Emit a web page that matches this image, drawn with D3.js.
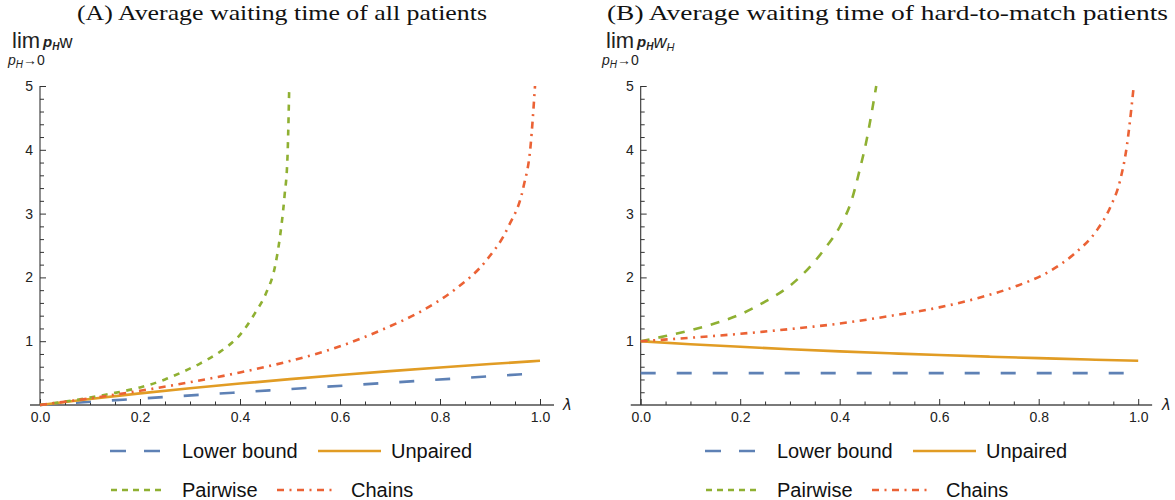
<!DOCTYPE html>
<html><head><meta charset="utf-8">
<script src="https://cdn.jsdelivr.net/npm/d3@7"></script>
<style>body{margin:0;background:#fff} svg{display:block}</style>
</head><body><svg id="c" width="1175" height="500"></svg>
<script>
// ---------- data ----------
const xTicks = [0, 0.2, 0.4, 0.6, 0.8, 1.0];
const xMinorTicks = [0.05,0.1,0.15,0.25,0.3,0.35,0.45,0.5,0.55,0.65,0.7,0.75,0.85,0.9,0.95];
const yTicks = [1, 2, 3, 4, 5];
const yMinorTicks = [0.2,0.4,0.6,0.8,1.2,1.4,1.6,1.8,2.2,2.4,2.6,2.8,3.2,3.4,3.6,3.8,4.2,4.4,4.6,4.8];
const seriesNames = ["Lower bound", "Unpaired", "Pairwise", "Chains"];
const titleA = "(A) Average waiting time of all patients";
const titleB = "(B) Average waiting time of hard-to-match patients";

// [lambda, value]
const lowerA = [[0,0],[0.25,0.125],[0.5,0.25],[0.75,0.375],[1,0.5]];
const unpairedA = [[0,0],[0.1,0.095],[0.2,0.182],[0.3,0.262],[0.4,0.336],[0.5,0.405],[0.6,0.47],[0.7,0.531],[0.8,0.588],[0.9,0.642],[1,0.693]];
const pairwiseA = [[0,0],[0.05,0.054],[0.1,0.117],[0.15,0.19],[0.2,0.275],[0.25,0.4],[0.28,0.5],[0.32,0.65],[0.363,0.85],[0.4,1.1],[0.43,1.44],[0.452,1.75],[0.47,2.17],[0.48,2.64],[0.489,3.27],[0.495,3.89],[0.4985,5.0]];
const chainsA = [[0,0],[0.1,0.105],[0.2,0.223],[0.3,0.357],[0.4,0.51],[0.5,0.69],[0.6,0.92],[0.69,1.2],[0.767,1.49],[0.833,1.83],[0.893,2.27],[0.937,2.8],[0.967,3.42],[0.981,4.05],[0.99,5.0]];

const lowerB = [[0,0.5],[0.25,0.5],[0.5,0.5],[0.75,0.5],[1,0.5]];
const unpairedB = [[0,1],[0.1,0.953],[0.2,0.912],[0.3,0.875],[0.4,0.841],[0.5,0.811],[0.6,0.783],[0.7,0.758],[0.8,0.735],[0.9,0.713],[1,0.693]];
const pairwiseB = [[0,1],[0.05,1.08],[0.1,1.17],[0.15,1.28],[0.2,1.42],[0.25,1.62],[0.3,1.87],[0.343,2.19],[0.373,2.48],[0.4,2.79],[0.424,3.21],[0.44,3.68],[0.454,4.15],[0.464,4.57],[0.4735,5.0]];
const chainsB = [[0,1],[0.1,1.054],[0.2,1.116],[0.3,1.19],[0.4,1.277],[0.5045,1.40],[0.6,1.53],[0.675,1.67],[0.75,1.85],[0.823,2.1],[0.87,2.36],[0.917,2.74],[0.945,3.12],[0.963,3.5],[0.977,4.05],[0.987,4.7],[0.991,5.0]];

// ---------- styles ----------
const colors = {"Lower bound":"#5E81B5", "Unpaired":"#E19C24", "Pairwise":"#8FB032", "Chains":"#EB6235"};
const svg = d3.select("#c");
svg.append("rect").attr("width",1175).attr("height",500).attr("fill","#fff");
const sans = "'Liberation Sans', Arial, sans-serif";

function panel(opt){
  const x = d3.scaleLinear().domain([0,1]).range(opt.xr);
  const y = d3.scaleLinear().domain([0,5]).range([405,86]);
  const g = svg.append("g");

  // title
  g.append("text").attr("x", opt.titleX).attr("y", 20)
    .attr("font-family","'Liberation Serif', 'Times New Roman', serif").attr("font-size",21)
    .attr("textLength", opt.titleW).attr("lengthAdjust","spacingAndGlyphs")
    .attr("fill","#111").text(opt.title);

  // x axis line
  g.append("line").attr("x1", x(-0.02)).attr("x2", x(1.028)).attr("y1", y(0)).attr("y2", y(0))
    .attr("stroke","#7a7a7a").attr("stroke-width",1.8);
  // y axis line
  g.append("line").attr("x1", x(0)).attr("x2", x(0)).attr("y1", y(0)).attr("y2", y(5))
    .attr("stroke","#333").attr("stroke-width",1.1);

  const xa = d3.axisBottom(x).tickValues(xTicks).tickSize(-6).tickPadding(7).tickFormat(d3.format(".1f"));
  const xg = g.append("g").attr("transform",`translate(0,${y(0)})`).call(xa);
  const xm = d3.axisBottom(x).tickValues(xMinorTicks).tickSize(-3.5).tickFormat("");
  const xmg = g.append("g").attr("transform",`translate(0,${y(0)})`).call(xm);
  const ya = d3.axisLeft(y).tickValues(yTicks).tickSize(-6).tickPadding(7).tickFormat(d3.format("d"));
  const yg = g.append("g").attr("transform",`translate(${x(0)},0)`).call(ya);
  const ym = d3.axisLeft(y).tickValues(yMinorTicks).tickSize(-4).tickFormat("");
  const ymg = g.append("g").attr("transform",`translate(${x(0)},0)`).call(ym);
  [xg,xmg,yg,ymg].forEach(a=>{
    a.select(".domain").remove();
    a.selectAll("line").attr("stroke","#333").attr("stroke-width",1);
    a.selectAll("text").attr("font-family",sans).attr("font-size",14).attr("fill","#222");
  });

  // lambda label
  g.append("text").attr("x", opt.lamX).attr("y", 410).attr("font-family","'DejaVu Sans', sans-serif")
    .attr("font-style","italic").attr("font-size",15).attr("fill","#222").text("λ");

  // y label
  const yl = g.append("text").attr("x", opt.limX).attr("y", 48).attr("font-family",sans).attr("fill","#222");
  yl.append("tspan").attr("font-size",22).text("lim");
  yl.append("tspan").attr("dx",3).attr("font-size",15).attr("font-style","italic").attr("font-weight","bold").attr("dy",-1).text("p");
  yl.append("tspan").attr("font-size",10).attr("font-style","italic").attr("font-weight","bold").attr("dy",3).text("H");
  if(opt.sub){
    yl.append("tspan").attr("font-size",18).attr("font-style","italic").attr("dy",-2).text("w");
    yl.append("tspan").attr("font-size",11).attr("font-style","italic").attr("dy",3).text("H");
  } else {
    yl.append("tspan").attr("font-size",18).attr("dy",-2).text("w");
  }
  const yl2 = g.append("text").attr("x", opt.limX-4).attr("y", 65).attr("font-family",sans).attr("fill","#222");
  yl2.append("tspan").attr("font-size",14).attr("font-style","italic").text("p");
  yl2.append("tspan").attr("font-size",10).attr("font-style","italic").attr("dy",3).text("H");
  yl2.append("tspan").attr("font-size",14).attr("dy",-3).text("→0");

  // curves
  const clipId = "clip"+opt.id;
  svg.append("clipPath").attr("id",clipId).append("rect")
    .attr("x", x(0)-2).attr("y", y(5)-1).attr("width", x(1)-x(0)+6).attr("height", y(0)-y(5)+4);
  const line = d3.line().x(d=>x(d[0])).y(d=>y(d[1])).curve(d3.curveMonotoneX);
  const cg = g.append("g").attr("clip-path",`url(#${clipId})`);
  opt.series.forEach(s=>{
    cg.append("path").datum(s.data).attr("d",line).attr("fill","none")
      .attr("stroke",colors[s.name]).attr("stroke-width",2.6)
      .attr("stroke-dasharray",s.dash||null);
  });

  // legend
  const lg = g.append("g").attr("transform",`translate(${opt.legDX},0)`);
  const leg = [
    {name:seriesNames[0], x1:110, x2:160, y:451, tx:182, ty:458, dash:"16,18"},
    {name:seriesNames[1], x1:318, x2:381, y:451, tx:391, ty:458, dash:null},
    {name:seriesNames[2], x1:111, x2:165, y:490, tx:182, ty:497, dash:"6,5"},
    {name:seriesNames[3], x1:277, x2:333, y:490, tx:351, ty:497, dash:"7,5.5,2,5.5"}
  ];
  leg.forEach(l=>{
    lg.append("line").attr("x1",l.x1).attr("x2",l.x2).attr("y1",l.y).attr("y2",l.y)
      .attr("stroke",colors[l.name]).attr("stroke-width",2.6).attr("stroke-dasharray",l.dash);
    lg.append("text").attr("x",l.tx).attr("y",l.ty).attr("font-family",sans).attr("font-size",20)
      .attr("fill","#111").text(l.name);
  });
}

panel({id:"A", xr:[40,540], title:titleA, titleX:77, titleW:410, lamX:563, limX:12, sub:false, legDX:0,
  series:[
    {name:"Lower bound", data:lowerA, dash:"15,21"},
    {name:"Unpaired", data:unpairedA},
    {name:"Pairwise", data:pairwiseA, dash:"6,6.5"},
    {name:"Chains", data:chainsA, dash:"7,5.5,2,5.5"}
  ]});
panel({id:"B", xr:[640.7,1138.2], title:titleB, titleX:607, titleW:561, lamX:1162, limX:606, sub:true, legDX:595,
  series:[
    {name:"Lower bound", data:lowerB, dash:"15,21"},
    {name:"Unpaired", data:unpairedB},
    {name:"Pairwise", data:pairwiseB, dash:"9,9"},
    {name:"Chains", data:chainsB, dash:"7,5.5,2,5.5"}
  ]});
</script></body></html>
